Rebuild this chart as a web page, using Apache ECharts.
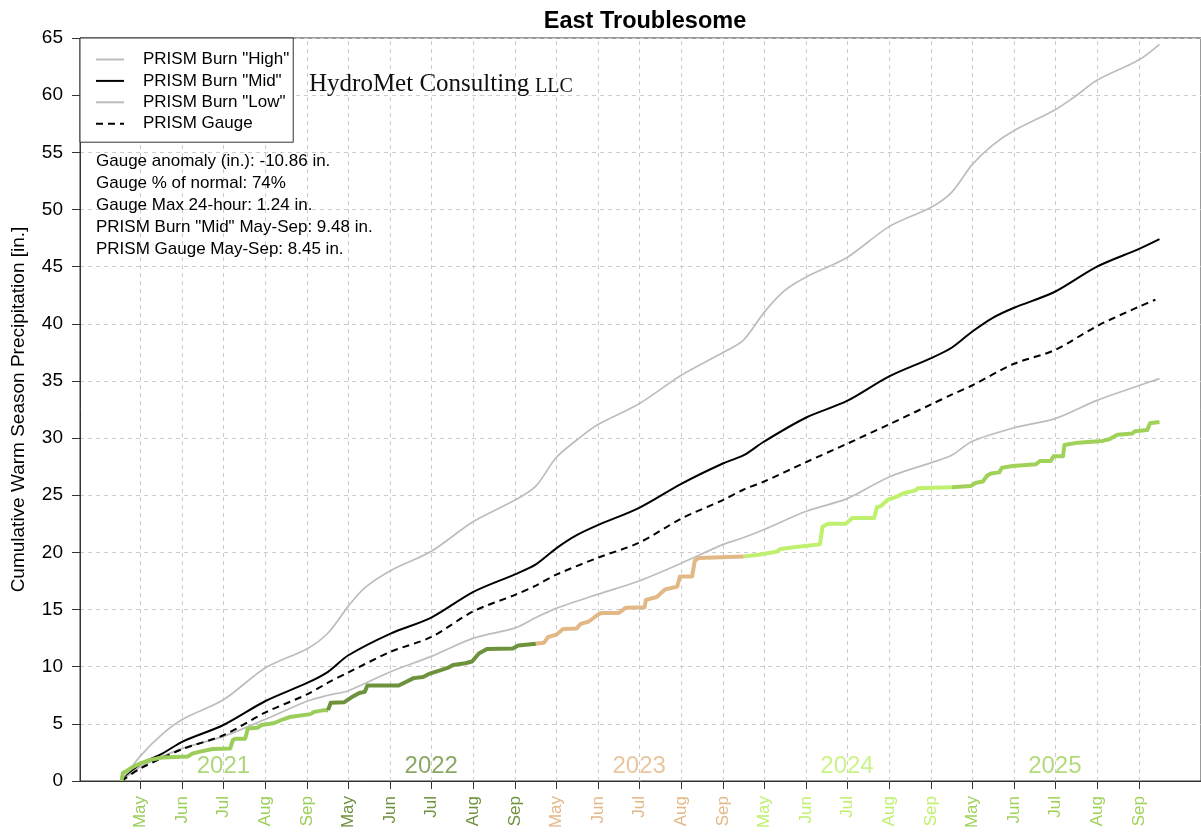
<!DOCTYPE html>
<html>
<head>
<meta charset="utf-8">
<script src="https://cdn.jsdelivr.net/npm/echarts@6/dist/echarts.min.js"></script>
<style>
html, body { margin: 0; padding: 0; background: #fff; }
#chart { width: 1201px; height: 836px; }
</style>
</head>
<body>
<div id="chart"></div>
<script>
// day 1 = May 1 2021, every warm season (May 1 - Sep 30) is 153 days, seasons are put end to end
var seasonLength = 153;
var years = ['2021', '2022', '2023', '2024', '2025'];
var yearColors = ['#9acd5a', '#6e913c', '#e3b887', '#bff06e', '#a0d25a'];
var months = ['May', 'Jun', 'Jul', 'Aug', 'Sep'];
var monthMidDays = [15, 46, 76, 107, 138];

var burnHigh = [[1,0],[15,2.2],[31,4.1],[46,5.4],[76,7.1],[107,9.9],[138,11.6],[153,12.95],[168,15.3],[180,16.9],[199,18.4],[229,20.1],[260,22.7],[291,24.6],[306,25.8],[321,28.3],[339,30.1],[352,31.2],[382,33.0],[413,35.5],[444,37.5],[459,38.6],[474,41.0],[489,42.9],[505,44.1],[535,45.8],[566,48.5],[597,50.2],[612,51.5],[627,53.9],[642,55.6],[658,56.9],[688,58.7],[703,59.9],[719,61.3],[750,63.1],[765,64.45]];
var burnMid = [[1,0],[15,1.5],[31,2.4],[46,3.45],[76,4.9],[107,7.0],[138,8.6],[153,9.55],[168,11.0],[199,12.9],[229,14.3],[260,16.55],[291,18.1],[306,18.95],[321,20.35],[336,21.5],[352,22.4],[382,23.9],[413,26.0],[444,27.8],[459,28.5],[474,29.7],[505,31.8],[535,33.25],[566,35.4],[597,37.0],[612,37.9],[627,39.3],[642,40.5],[658,41.4],[688,42.8],[719,45.0],[750,46.55],[765,47.4]];
var burnLow = [[1,0],[15,1.25],[46,2.85],[76,3.9],[107,5.4],[138,7.0],[153,7.5],[168,7.9],[199,9.55],[229,10.9],[260,12.5],[291,13.4],[306,14.3],[321,15.1],[352,16.35],[382,17.5],[413,19.05],[444,20.7],[459,21.3],[474,22.0],[505,23.6],[535,24.7],[566,26.6],[597,27.85],[612,28.5],[627,29.7],[658,30.9],[688,31.7],[719,33.3],[750,34.6],[765,35.2]];
var prismGauge = [[1,0],[15,1.1],[46,2.8],[76,4.0],[107,6.0],[138,7.6],[153,8.6],[168,9.5],[199,11.3],[229,12.6],[260,14.85],[291,16.3],[306,17.1],[321,18.05],[352,19.55],[382,20.85],[413,22.95],[444,24.6],[459,25.5],[474,26.2],[505,27.9],[535,29.5],[566,31.2],[597,32.95],[612,33.8],[627,34.6],[658,36.5],[688,37.7],[719,39.8],[750,41.5],[762,42.1]];

// observed gauge, one piece per year
var obs2021 = [[1,0],[2,0.7],[5,0.9],[9,1.2],[15,1.55],[22,1.85],[31,2.05],[50,2.15],[53,2.4],[58,2.55],[68,2.8],[81,2.85],[83,3.6],[85,3.7],[92,3.7],[94,4.6],[101,4.65],[104,4.9],[113,5.05],[120,5.4],[125,5.6],[140,5.85],[143,6.05],[150,6.2],[153,6.2]];
var obs2022 = [[153,6.2],[155,6.85],[165,6.9],[170,7.3],[176,7.7],[180,7.8],[182,8.35],[205,8.35],[211,8.7],[216,9.0],[223,9.1],[228,9.4],[236,9.7],[242,9.95],[245,10.15],[254,10.3],[259,10.45],[264,11.15],[270,11.55],[289,11.6],[293,11.85],[306,12.0]];
var obs2023 = [[306,12.0],[312,12.1],[315,12.6],[321,12.8],[326,13.3],[336,13.35],[339,13.75],[345,13.95],[351,14.5],[354,14.7],[367,14.7],[372,15.15],[386,15.2],[387,15.85],[395,16.1],[401,16.75],[410,17.0],[412,17.9],[421,17.9],[423,19.3],[426,19.5],[459,19.65]];
var obs2024 = [[459,19.65],[470,19.8],[483,20.05],[486,20.3],[499,20.5],[515,20.7],[517,22.25],[521,22.5],[534,22.5],[539,23.0],[555,23.0],[557,23.95],[560,24.05],[565,24.6],[572,24.9],[577,25.2],[585,25.4],[587,25.6],[612,25.7]];
var obs2025 = [[612,25.7],[626,25.8],[630,26.1],[635,26.2],[638,26.7],[641,26.9],[647,27.0],[649,27.4],[657,27.55],[674,27.7],[677,28.0],[685,28.0],[687,28.4],[694,28.4],[695,29.4],[705,29.6],[723,29.75],[728,29.9],[734,30.3],[745,30.4],[747,30.6],[756,30.7],[758,31.3],[765,31.4]];
var observed = [obs2021, obs2022, obs2023, obs2024, obs2025];

var notes = [
    'Gauge anomaly (in.): -10.86 in.',
    'Gauge % of normal: 74%',
    'Gauge Max 24-hour: 1.24 in.',
    'PRISM Burn "Mid" May-Sep: 9.48 in.',
    'PRISM Gauge May-Sep: 8.45 in.'
];

var FONT = '"Liberation Sans", Arial, sans-serif';

// ticks on the 15th of each month
var tickDays = [];
for (var k = 0; k < years.length; k++) {
    for (var m = 0; m < monthMidDays.length; m++) {
        tickDays.push(monthMidDays[m] + k * seasonLength);
    }
}

function seasonOf(v) {
    return Math.floor((Number(v) - 1) / seasonLength);
}

var chart = echarts.init(document.getElementById('chart'));

function curve(name, data, color, width, dash) {
    return {
        name: name, type: 'line', data: data, symbol: 'none', showSymbol: false,
        smooth: 0.3, z: 3,
        lineStyle: { color: color, width: width, type: dash || 'solid' },
        itemStyle: { color: color }
    };
}

var series = [
    {
        // vertical dashed grid at the ticks
        type: 'line',
        data: [],
        silent: true,
        markLine: {
            silent: true,
            z: 1,
            symbol: ['none', 'none'],
            label: { show: false },
            lineStyle: { color: '#cccccc', type: [4, 4], width: 1 },
            emphasis: { disabled: true },
            data: tickDays.map(function (d) { return { xAxis: d }; })
        }
    },
    curve('PRISM Burn "High"', burnHigh, '#bdbdbd', 1.7),
    curve('PRISM Burn "Mid"', burnMid, '#000', 2),
    curve('PRISM Burn "Low"', burnLow, '#bdbdbd', 1.7),
    curve('PRISM Gauge', prismGauge, '#000', 2, [7, 5])
];

observed.forEach(function (d, i) {
    series.push({
        name: 'obs' + years[i], type: 'line', data: d, symbol: 'none', z: 4,
        lineStyle: { color: yearColors[i], width: 4, join: 'round' },
        itemStyle: { color: yearColors[i] }
    });
});

// year names in the middle of each season
series.push({
    type: 'scatter',
    silent: true,
    z: 5,
    symbolSize: 1,
    itemStyle: { color: 'rgba(0,0,0,0)' },
    data: years.map(function (y, i) {
        return {
            value: [monthMidDays[2] + i * seasonLength, 1.3],
            label: { color: yearColors[i] }
        };
    }),
    label: {
        show: true,
        position: 'inside',
        fontSize: 24,
        fontFamily: FONT,
        formatter: function (p) { return years[p.dataIndex]; }
    }
});

var graphics = notes.map(function (t, i) {
    return {
        type: 'text', x: 96, y: 161 + i * 22, z: 10,
        style: { text: t, font: '17px ' + FONT, fill: '#000', verticalAlign: 'middle' }
    };
});
graphics.push({
    type: 'text', x: 309, y: 84, z: 10,
    style: { text: 'HydroMet Consulting', font: '25px "Liberation Serif", serif', fill: '#111', verticalAlign: 'middle' }
});
graphics.push({
    type: 'text', x: 535, y: 87, z: 10,
    style: { text: 'LLC', font: '20px "Liberation Serif", serif', fill: '#111', verticalAlign: 'middle' }
});

var option = {
    animation: false,
    backgroundColor: '#fff',
    title: {
        text: 'East Troublesome',
        left: 640,
        top: 5,
        textAlign: 'center',
        textStyle: { fontSize: 23.5, fontWeight: 'bold', fontFamily: FONT, color: '#000' }
    },
    legend: {
        orient: 'vertical',
        left: 80,
        top: 38,
        data: ['PRISM Burn "High"', 'PRISM Burn "Mid"', 'PRISM Burn "Low"', 'PRISM Gauge'],
        itemWidth: 28,
        itemHeight: 14,
        itemGap: 4.4,
        padding: [13, 4, 10, 15],
        borderColor: '#333',
        borderWidth: 1,
        borderRadius: 0,
        backgroundColor: '#fff',
        selectedMode: false,
        itemStyle: { opacity: 0, borderWidth: 0 },
        textStyle: { fontSize: 17, fontFamily: FONT, color: '#000', padding: [0, 0, 0, 14] }
    },
    grid: {
        left: 80, top: 38, width: 1129.4, height: 743,
        show: true, borderColor: '#333', borderWidth: 1
    },
    xAxis: {
        type: 'value',
        min: -29.56,
        max: 795.56,
        axisLine: { show: true, onZero: false, lineStyle: { color: '#333' } },
        axisTick: { show: true, customValues: tickDays, length: 8, lineStyle: { color: '#333' } },
        axisLabel: {
            customValues: tickDays,
            rotate: 90,
            margin: 15,
            fontSize: 17,
            fontFamily: FONT,
            formatter: function (v) {
                var off = (Number(v) - 1) % seasonLength + 1;
                return months[monthMidDays.indexOf(off)];
            },
            color: function (v) {
                return yearColors[seasonOf(v)];
            }
        },
        splitLine: { show: false }
    },
    yAxis: {
        type: 'value',
        min: 0,
        max: 65,
        interval: 5,
        name: 'Cumulative Warm Season Precipitation [in.]',
        nameLocation: 'middle',
        nameGap: 52,
        nameTextStyle: { fontSize: 19, fontFamily: FONT, color: '#000' },
        axisLine: { show: true, onZero: false, lineStyle: { color: '#333' } },
        axisTick: { show: true, length: 8, lineStyle: { color: '#333' } },
        axisLabel: { fontSize: 19, fontFamily: FONT, color: '#000', margin: 17 },
        splitLine: { show: true, lineStyle: { color: '#cccccc', type: [4, 4] } }
    },
    graphic: graphics,
    series: series
};

chart.setOption(option);
</script>
</body>
</html>
